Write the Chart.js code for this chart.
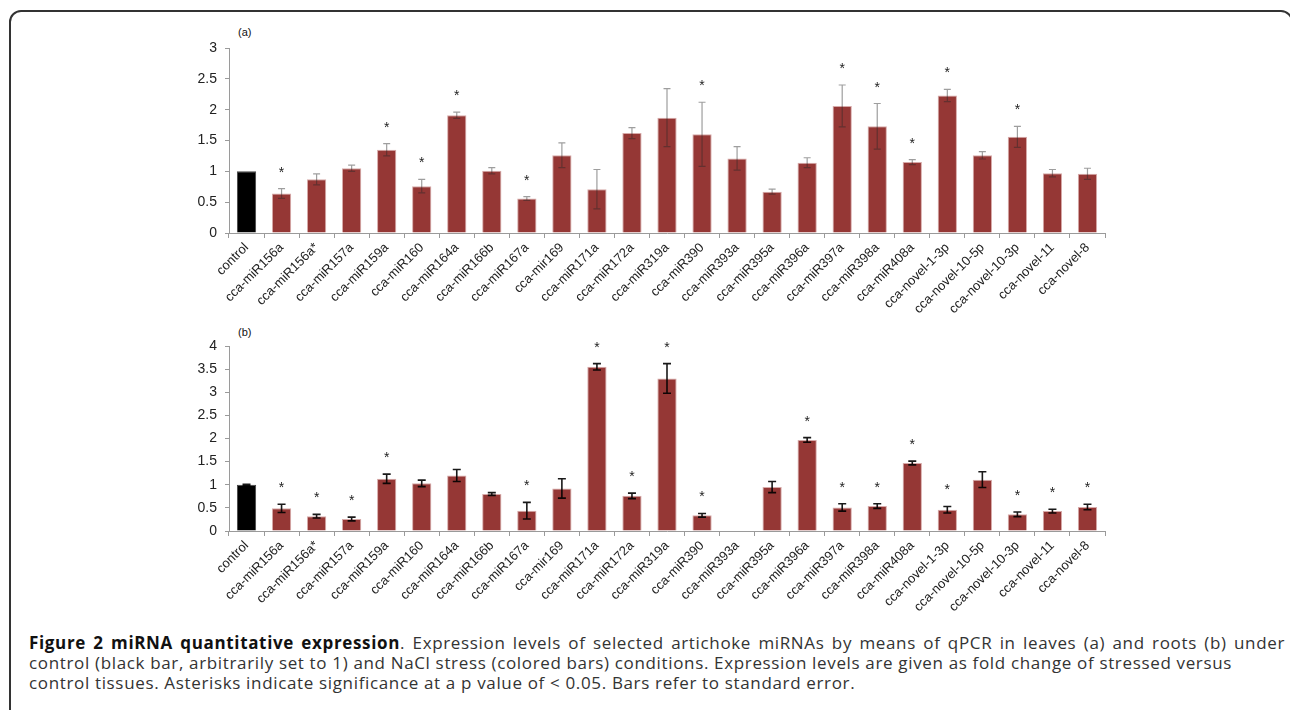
<!doctype html>
<html>
<head>
  <meta charset="utf-8" />
  <title>miRNA quantitative expression</title>
  <script src="https://cdn.jsdelivr.net/npm/chart.js@4.4.1/dist/chart.umd.min.js"></script>
  <style>
    body { margin:0; background:#fff; width:1290px; height:710px; overflow:hidden; position:relative;
           font-family:"Liberation Sans", Arial, sans-serif; }
    .frame { position:absolute; left:9px; top:10px; width:1284px; height:730px;
             border:2px solid #333; border-radius:12px; box-sizing:border-box; }
    .wrap { position:absolute; left:170px; width:950px; height:300px; }
    #wrapA { top:20px; }
    #wrapB { top:325px; }
    .panel { position:absolute; left:238px; font-size:11px; color:#111; }
    .caption { position:absolute; left:29px; top:633px; width:1256px; font-family:"Open Sans", sans-serif;
               font-size:17px; line-height:20px; color:#333; }
    .caption div { white-space:nowrap; }
    .caption .first { text-align:justify; text-align-last:justify; white-space:normal; }
    .caption b { color:#111; }
  </style>
</head>

<body>
 <div class="frame"></div>
 <div class="panel" style="top:26px">(a)</div>
 <div class="panel" style="top:326px">(b)</div>
 <div class="wrap" id="wrapA"><canvas id="leafChart" width="950" height="300"></canvas></div>
 <div class="wrap" id="wrapB"><canvas id="rootChart" width="950" height="300"></canvas></div>
 <div class="caption" id="caption">
   <div class="first"><b>Figure 2 miRNA quantitative expression</b>. Expression levels of selected artichoke miRNAs by means of qPCR in leaves (a) and roots (b) under</div>
   <div id="line2"><span>control (black bar, arbitrarily set to 1) and NaCl stress (colored bars) conditions. Expression levels are given as fold change of stressed versus</span></div>
   <div>control tissues. Asterisks indicate significance at a p value of &lt; 0.05. Bars refer to standard error.</div>
 </div>

<script>
const categories = ["control","cca-miR156a","cca-miR156a*","cca-miR157a","cca-miR159a","cca-miR160",
  "cca-miR164a","cca-miR166b","cca-miR167a","cca-mir169","cca-miR171a","cca-miR172a","cca-miR319a",
  "cca-miR390","cca-miR393a","cca-miR395a","cca-miR396a","cca-miR397a","cca-miR398a","cca-miR408a",
  "cca-novel-1-3p","cca-novel-10-5p","cca-novel-10-3p","cca-novel-11","cca-novel-8"];

// (a) leaves
const leafValues = [1.00,0.64,0.87,1.05,1.35,0.76,1.91,1.01,0.56,1.26,0.71,1.62,1.87,1.60,1.21,0.67,1.14,2.06,1.73,1.15,2.23,1.26,1.56,0.97,0.96];
const leafErrors = [0,0.08,0.09,0.05,0.10,0.11,0.05,0.05,0.03,0.20,0.32,0.09,0.47,0.52,0.19,0.04,0.08,0.34,0.37,0.04,0.10,0.06,0.17,0.06,0.09];
const leafSignificant = [0,1,0,0,1,1,1,0,1,0,0,0,0,1,0,0,0,1,1,1,1,0,1,0,0];
const leafTicks = [0,0.5,1,1.5,2,2.5,3];

// (b) roots
const rootValues = [1.00,0.49,0.32,0.26,1.13,1.03,1.20,0.80,0.44,0.92,3.55,0.76,3.30,0.34,null,0.95,1.97,0.51,0.54,1.47,0.46,1.11,0.36,0.43,0.52];
const rootErrors = [0.01,0.09,0.04,0.04,0.10,0.07,0.13,0.03,0.18,0.21,0.07,0.06,0.32,0.04,0,0.12,0.05,0.08,0.05,0.04,0.07,0.17,0.05,0.04,0.06];
const rootSignificant = [0,1,1,1,1,0,0,0,1,0,1,1,1,1,0,0,1,1,1,1,1,0,1,1,1];
const rootTicks = [0,0.5,1,1.5,2,2.5,3,3.5,4];

const barColors = categories.map((c, i) => i == 0 ? "#000000" : "#953735");
const edgeColors = categories.map((c, i) => i == 0 ? "#444444" : "#d7aaa9");

// stretch the caption so the second line is as wide as in the figure (~1203px)
(function () {
  const span = document.querySelector("#line2 span");
  const chars = span.textContent.length;
  const extra = (1203 - span.getBoundingClientRect().width) / chars;
  document.getElementById("caption").style.letterSpacing = extra.toFixed(3) + "px";
})();

// error bars + asterisks drawn over the bars
const errorBars = {
  id: "errorBars",
  afterDatasetsDraw(chart) {
    const ds = chart.data.datasets[0];
    const meta = chart.getDatasetMeta(0);
    const y = chart.scales.y;
    const ctx = chart.ctx;
    ctx.save();
    meta.data.forEach((bar, i) => {
      const v = ds.data[i];
      if (v == null) return;
      const e = ds.errors[i];
      const x = bar.x;
      const top = y.getPixelForValue(v + e);
      if (e > 0) {
        const bot = y.getPixelForValue(v - e);
        ctx.strokeStyle = ds.errColor;
        ctx.lineWidth = ds.errWidth;
        ctx.beginPath();
        ctx.moveTo(x, top); ctx.lineTo(x, bot);
        ctx.moveTo(x - ds.capHalf, top); ctx.lineTo(x + ds.capHalf, top);
        ctx.moveTo(x - ds.capHalf, bot); ctx.lineTo(x + ds.capHalf, bot);
        ctx.stroke();
      }
      if (ds.stars[i]) {
        ctx.fillStyle = "#222";
        ctx.font = "14px 'Liberation Sans', Arial";
        ctx.textAlign = "center";
        ctx.textBaseline = "alphabetic";
        ctx.fillText("*", x, top - 20 + 8);
      }
    });
    ctx.restore();
  }
};

function makeChart(id, values, errors, stars, ticks, padTop, axisHeight, errColor, errWidth, capHalf) {
  return new Chart(id, {
    type: "bar",
    data: {
      labels: categories,
      datasets: [{
        data: values,
        errors: errors,
        stars: stars,
        errColor: errColor,
        errWidth: errWidth,
        capHalf: capHalf,
        backgroundColor: barColors,
        borderColor: edgeColors,
        borderWidth: 1,
        categoryPercentage: 1,
        barPercentage: 0.55
      }]
    },
    options: {
      responsive: false,
      animation: false,
      devicePixelRatio: 1,
      layout: { padding: { left: 0, top: padTop, right: 15, bottom: 0 } },
      plugins: { legend: { display: false }, tooltip: { enabled: false } },
      scales: {
        x: {
          offset: true,
          grid: { display: true, drawOnChartArea: false, offset: true, tickLength: 5, color: "#9a9a9a" },
          border: { color: "#9a9a9a" },
          ticks: { minRotation: 45, maxRotation: 45, autoSkip: false, padding: 2,
                   color: "#222", font: { family: "'Liberation Sans', Arial", size: 13 } },
          afterFit: s => { s.height = axisHeight; }
        },
        y: {
          min: ticks[0],
          max: ticks[ticks.length - 1],
          afterBuildTicks: s => { s.ticks = ticks.map(v => ({ value: v })); },
          grid: { display: true, drawOnChartArea: false, tickLength: 4, color: "#9a9a9a" },
          border: { color: "#9a9a9a" },
          ticks: { padding: 8, color: "#222", callback: v => String(v),
                   font: { family: "'Liberation Sans', Arial", size: 14 } },
          afterFit: s => { s.width = 59; }
        }
      }
    },
    plugins: [errorBars]
  });
}

makeChart("leafChart", leafValues, leafErrors, leafSignificant, leafTicks, 28, 87, "rgba(40,40,40,0.45)", 1.2, 3.5);
makeChart("rootChart", rootValues, rootErrors, rootSignificant, rootTicks, 21, 94, "rgba(0,0,0,0.9)", 1.6, 4);
</script>
</body>
</html>
